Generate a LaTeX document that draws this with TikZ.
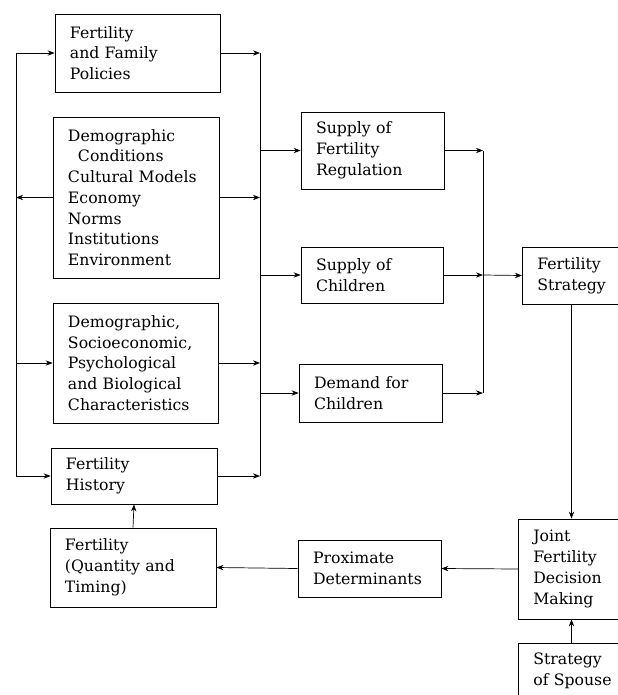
\documentclass[tikz,border=0pt]{standalone}
\usepackage{fontspec}
\setmainfont{DejaVu Serif}
\usetikzlibrary{arrows.meta}

\tikzset{
  box/.style={draw, line width=0.6pt, align=left, inner xsep=0.45cm, inner ysep=0pt,
    font=\fontsize{13.4}{17.7}\selectfont},
  link/.style={line width=0.6pt, -{Stealth[length=6pt,width=4.5pt]}},
  bus/.style={line width=0.6pt}
}

\begin{document}
\begin{tikzpicture}[x=0.03cm, y=-0.03cm]
    \clip (0,0) rectangle (618,695);
    \fill[white] (0,0) rectangle (618,695);

    % left column
    \node[box, text width=4.05cm, minimum height=2.34cm] (policy) at (137.5,53) {Fertility\\and Family\\Policies};
    \node[box, text width=4.08cm, minimum height=4.83cm] (cond) at (136,197.5) {Demographic\\\hspace*{0.3cm}Conditions\\Cultural Models\\Economy\\Norms\\Institutions\\Environment};
    \node[box, text width=4.05cm, minimum height=3.6cm] (charac) at (135.5,363) {Demographic,\\Socioeconomic,\\Psychological\\and Biological\\Characteristics};
    \node[box, text width=4.08cm, minimum height=1.68cm] (hist) at (134,476) {Fertility\\History};
    \node[box, text width=4.08cm, minimum height=2.37cm] (fert) at (133,567.5) {Fertility\\(Quantity and\\Timing)};

    % middle column
    \node[box, text width=3.39cm, minimum height=2.31cm] (regul) at (372.5,150.5) {Supply of\\Fertility\\Regulation};
    \node[box, text width=3.36cm, minimum height=1.68cm] (supply) at (372,275) {Supply of\\Children};
    \node[box, text width=3.39cm, minimum height=1.74cm] (demand) at (370.5,393) {Demand for\\Children};
    \node[box, text width=3.39cm, minimum height=1.71cm] (prox) at (369.5,568.5) {Proximate\\Determinants};

    % right column (cut off by the page edge)
    \node[box, anchor=west, text width=3.5cm, minimum height=1.71cm] (strat) at (522,275.5) {Fertility\\Strategy};
    \node[box, anchor=west, text width=3.5cm, minimum height=3.0cm] (joint) at (518,569) {Joint\\Fertility\\Decision\\Making};
    \node[box, anchor=west, text width=3.5cm, minimum height=1.68cm] (spouse) at (518,671) {Strategy\\of Spouse};

    % buses
    \coordinate (lbus) at (16,0);
    \coordinate (rbus) at (260,0);
    \coordinate (mbus) at (483,0);
    \coordinate (jcol) at (571.5,0);

    \draw[bus] (policy.west -| lbus) -- (hist.west -| lbus); % left bus
    \draw[bus] (policy.east -| rbus) -- (hist.east -| rbus); % right bus
    \draw[bus] (regul.east -| mbus) -- (demand.east -| mbus); % middle bus

    \draw[link] (policy.west -| lbus) -- (policy.west);
    \draw[link] (cond.west) -- (cond.west -| lbus);
    \draw[link] (charac.west -| lbus) -- (charac.west);
    \draw[link] (hist.west -| lbus) -- (hist.west);

    \draw[link] (policy.east) -- (policy.east -| rbus);
    \draw[link] (cond.east) -- (cond.east -| rbus);
    \draw[link] (charac.east) -- (charac.east -| rbus);
    \draw[link] (hist.east) -- (hist.east -| rbus);

    \draw[link] (regul.west -| rbus) -- (regul.west);
    \draw[link] (supply.west -| rbus) -- (supply.west);
    \draw[link] (demand.west -| rbus) -- (demand.west);

    \draw[link] (regul.east) -- (regul.east -| mbus);
    \draw[link] (supply.east) -- (supply.east -| mbus);
    \draw[link] (demand.east) -- (demand.east -| mbus);
    \draw[link] (supply.east -| mbus) -- (strat.west);

    \draw[link] (strat.south -| jcol) -- (joint.north -| jcol);
    \draw[link] (spouse.north -| jcol) -- (joint.south -| jcol);
    \draw[link] (joint.west) -- (prox.east);
    \draw[link] (prox.west) -- (fert.east);
    \draw[link] (fert.north) -- (hist.south);
\end{tikzpicture}
\end{document}
